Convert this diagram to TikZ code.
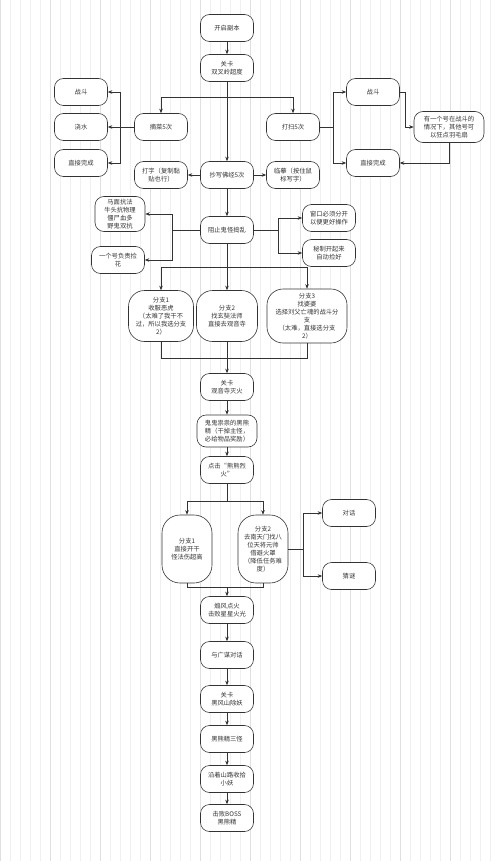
\documentclass[tikz,border=0pt]{standalone}
\usepackage{fontspec}
\newfontfamily\cjk{Noto Sans CJK SC}
\usetikzlibrary{arrows.meta}

\begin{document}
\begin{tikzpicture}[x=1pt, y=-1pt,
  box/.style={draw=black!80, line width=0.6pt, rounded corners=9pt, fill=white,
    minimum width=53pt, minimum height=27pt, align=center, inner sep=1pt,
    font=\cjk\fontsize{6.3}{8}\selectfont, text=black!80},
  arr/.style={draw=black!80, line width=0.6pt, -{Stealth[length=4.5pt, width=3.5pt]}},
  ln/.style={draw=black!80, line width=0.6pt}]
  \useasboundingbox (0,0) rectangle (500,861);
  \fill[white] (0,0) rectangle (500,861);
  \draw[black!6, line width=0.4pt, step=10] (0,0) grid (500,861);
  \draw[black!12, line width=0.5pt, step=50] (0,0) grid (500,861);

  % main line
  \node[box] (kq) at (227,28) {开启副本};
  \node[box] (gk1) at (227,68) {关卡\\双叉岭超度};
  \node[box] (zc) at (161,127) {摘菜5次};
  \node[box] (ds) at (293,127) {打扫5次};
  \node[box] (zd1) at (81,92) {战斗};
  \node[box] (js) at (81,127) {浇水};
  \node[box] (wc1) at (81,163) {直接完成};
  \node[box] (zd2) at (373,92) {战斗};
  \node[box, minimum width=70pt, minimum height=31pt] (yg) at (449,127) {有一个号在战斗的\\情况下，其他号可\\以狂点羽毛扇};
  \node[box] (wc2) at (373,163) {直接完成};
  \node[box] (dz) at (161,175) {打字（复制黏\\贴也行）};
  \node[box] (cx) at (227,175) {抄写佛经5次};
  \node[box] (lm) at (293,175) {临摹（按住鼠\\标写字）};
  \node[box, minimum width=50pt, minimum height=35pt] (mm) at (120,214) {马面抗法\\牛头抗物理\\僵尸血多\\野鬼双抗};
  \node[box] (zz) at (227,230) {阻止鬼怪捣乱};
  \node[box] (jh) at (118,260) {一个号负责捡\\花};
  \node[box] (ck) at (329,218) {窗口必须分开\\以便更好操作};
  \node[box] (mz) at (329,253) {秘制开起来\\自动捡好};
  \node[box, minimum width=65pt, minimum height=51pt, rounded corners=16pt] (fz1) at (161,316) {分支1\\收服恶虎\\（太难了我干不\\过，所以我选分支\\2）};
  \node[box, minimum width=61pt, minimum height=51pt, rounded corners=16pt] (fz2) at (227,316) {分支2\\找玄奘法师\\直接去观音寺};
  \node[box, minimum width=80pt, minimum height=54pt, rounded corners=16pt] (fz3) at (307,316) {分支3\\找婆婆\\选择刘父亡魂的战斗分\\支\\（太难，直接选分支\\2）};
  \node[box] (gk2) at (227,387) {关卡\\观音寺灭火};
  \node[box, minimum width=60pt, minimum height=32pt] (hx) at (227,431) {鬼鬼祟祟的黑熊\\精（干掉主怪，\\必给物品奖励）};
  \node[box] (dj) at (227,470) {点击“熊熊烈\\火”};
  \node[box, minimum width=50pt, minimum height=68pt, rounded corners=18pt] (fb1) at (187,549) {分支1\\直接开干\\怪法伤超高};
  \node[box, minimum width=50pt, minimum height=68pt, rounded corners=18pt] (fb2) at (263,549) {分支2\\去南天门找八\\位天将元帅\\借避火罩\\（降低任务难\\度）};
  \node[box] (dh) at (349,513) {对话};
  \node[box] (cm) at (349,576) {猜谜};
  \node[box] (sf) at (227,610) {煽风点火\\击败星星火光};
  \node[box] (gm) at (227,655) {与广谋对话};
  \node[box] (gk3) at (227,699) {关卡\\黑风山除妖};
  \node[box] (sg) at (227,739) {黑熊精三怪};
  \node[box] (ys) at (227,779) {沿着山路收拾\\小妖};
  \node[box] (boss) at (227,818) {击败BOSS\\黑熊精};

  % joints
  \coordinate (j1) at (227,97);
  \coordinate (j2) at (120,127);
  \coordinate (j3) at (333,127);
  \coordinate (j4) at (405,127);
  \coordinate (j5) at (172,230);
  \coordinate (j6) at (278,230);
  \coordinate (j7) at (227,267);
  \coordinate (j8) at (227,358);
  \coordinate (j9) at (227,501);
  \coordinate (j10) at (303,549);
  \coordinate (j11) at (227,587);

  \draw[arr] (kq) -- (gk1);
  \draw[arr] (gk1) -- (cx);
  \draw[arr] (j1) -| (zc);
  \draw[arr] (j1) -| (ds);
  \draw[ln] (zc) -- (j2);
  \draw[arr] (j2) |- (zd1);
  \draw[arr] (j2) -- (js);
  \draw[arr] (j2) |- (wc1);
  \draw[ln] (ds) -- (j3);
  \draw[arr] (j3) |- (zd2);
  \draw[arr] (j3) |- (wc2);
  \draw[arr] (zd2.east) -| (j4) -- (yg);
  \draw[arr] (yg.south) |- (wc2);
  \draw[arr] (cx) -- (dz);
  \draw[arr] (cx) -- (lm);
  \draw[arr] (cx) -- (zz);
  \draw[ln] (zz) -- (j5);
  \draw[arr] (j5) |- (mm);
  \draw[arr] (j5) |- (jh);
  \draw[ln] (zz) -- (j6);
  \draw[arr] (j6) |- (ck);
  \draw[arr] (j6) |- (mz);
  \draw[ln] (zz.south) -- (j7);
  \draw[arr] (j7) -| (fz1);
  \draw[arr] (j7) -| (fz3);
  \draw[arr] (j7) -- (fz2);
  \draw[ln] (fz1.south) |- (j8);
  \draw[ln] (fz3.south) |- (j8);
  \draw[arr] (fz2) -- (gk2);
  \draw[arr] (gk2) -- (hx);
  \draw[arr] (hx) -- (dj);
  \draw[ln] (dj.south) -- (j9);
  \draw[arr] (j9) -| (fb1);
  \draw[arr] (j9) -| (fb2);
  \draw[ln] (fb2) -- (j10);
  \draw[arr] (j10) |- (dh);
  \draw[arr] (j10) |- (cm);
  \draw[ln] (fb1.south) |- (j11);
  \draw[ln] (fb2.south) |- (j11);
  \draw[arr] (j11) -- (sf);
  \draw[arr] (sf) -- (gm);
  \draw[arr] (gm) -- (gk3);
  \draw[arr] (gk3) -- (sg);
  \draw[arr] (sg) -- (ys);
  \draw[arr] (ys) -- (boss);
\end{tikzpicture}
\end{document}
